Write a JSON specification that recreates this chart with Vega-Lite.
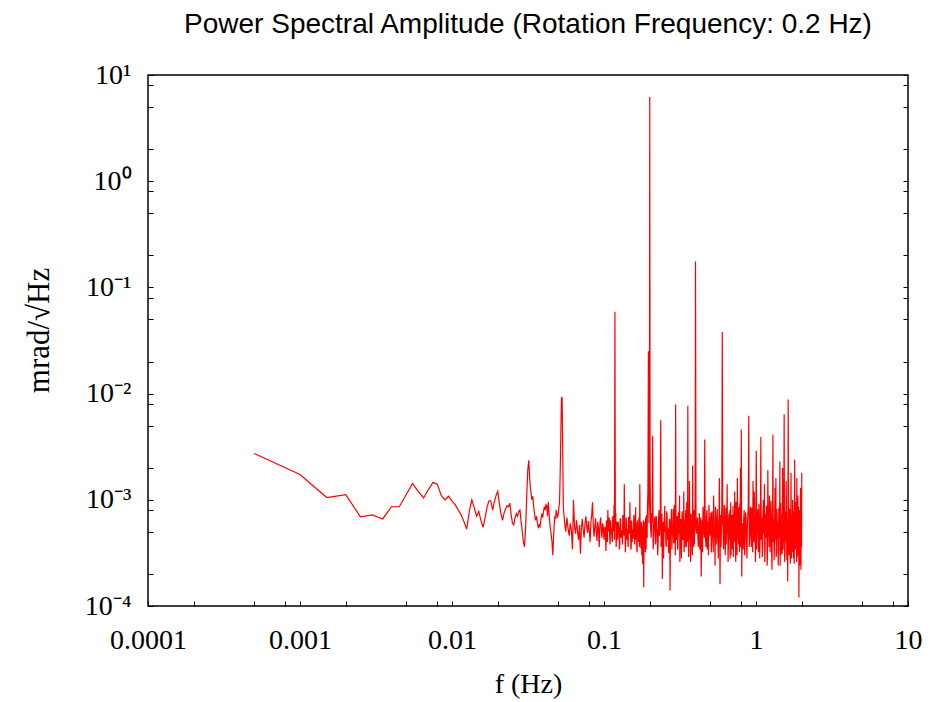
{
"$schema":"https://vega.github.io/schema/vega-lite/v6.json",
"width":760,"height":531,
"autosize":{"type":"none"},
"padding":{"left":148,"top":75,"right":25,"bottom":96},
"background":"white",
"title":{"text":"Power Spectral Amplitude (Rotation Frequency: 0.2 Hz)","font":"Liberation Sans","fontSize":28,"fontWeight":"normal","color":"#000","anchor":"middle","offset":22},
"config":{"view":{"stroke":"#000","strokeWidth":1.5}},
"data":{"values":[
{"f":0.0005,"a":0.00273},{"f":0.001,"a":0.00173},{"f":0.0015,"a":0.00105},{"f":0.002,"a":0.00112},{"f":0.0025,"a":0.00069},{"f":0.003,"a":0.00072},{"f":0.0035,"a":0.00066},{"f":0.004,"a":0.00086},{"f":0.0045,"a":0.00086},{"f":0.005,"a":0.00112},{"f":0.0055,"a":0.00142},{"f":0.006,"a":0.0012},{"f":0.0065,"a":0.00104},{"f":0.007,"a":0.00125},{"f":0.0075,"a":0.00146},{"f":0.008,"a":0.0014},{"f":0.0085,"a":0.0011},{"f":0.009,"a":0.001},{"f":0.0095,"a":0.00108},{"f":0.01,"a":0.00097},
{"f":0.0105,"a":0.0009},{"f":0.011,"a":0.0008},{"f":0.0115,"a":0.00072},{"f":0.012,"a":0.00062},{"f":0.0125,"a":0.00053},{"f":0.013,"a":0.00078},{"f":0.0135,"a":0.001},{"f":0.014,"a":0.00085},{"f":0.0145,"a":0.0007},{"f":0.015,"a":0.00078},{"f":0.0155,"a":0.00064},{"f":0.016,"a":0.00055},{"f":0.0165,"a":0.00068},{"f":0.017,"a":0.00085},{"f":0.0175,"a":0.00098},{"f":0.018,"a":0.00098},{"f":0.0185,"a":0.0008},{"f":0.019,"a":0.00096},{"f":0.0195,"a":0.0011},{"f":0.02,"a":0.0012},
{"f":0.0205,"a":0.00092},{"f":0.021,"a":0.00074},{"f":0.0215,"a":0.00064},{"f":0.022,"a":0.00075},{"f":0.0225,"a":0.00082},{"f":0.023,"a":0.00088},{"f":0.0235,"a":0.00086},{"f":0.024,"a":0.00093},{"f":0.0245,"a":0.00072},{"f":0.025,"a":0.0006},{"f":0.0255,"a":0.00058},{"f":0.026,"a":0.00068},{"f":0.0265,"a":0.00074},{"f":0.027,"a":0.0007},{"f":0.0275,"a":0.00078},{"f":0.028,"a":0.0008},{"f":0.0285,"a":0.00062},{"f":0.029,"a":0.0005},{"f":0.0295,"a":0.0004},{"f":0.03,"a":0.00036},
{"f":0.0305,"a":0.00055},{"f":0.031,"a":0.00105},{"f":0.0315,"a":0.0019},{"f":0.032,"a":0.00235},{"f":0.0325,"a":0.0015},{"f":0.033,"a":0.0012},{"f":0.0335,"a":0.001},{"f":0.034,"a":0.00108},{"f":0.0345,"a":0.00085},{"f":0.035,"a":0.00072},{"f":0.0355,"a":0.00064},{"f":0.036,"a":0.0007},{"f":0.0365,"a":0.0006},{"f":0.037,"a":0.00054},{"f":0.0375,"a":0.00058},{"f":0.038,"a":0.00056},{"f":0.0385,"a":0.00066},{"f":0.039,"a":0.00074},{"f":0.0395,"a":0.00068},{"f":0.04,"a":0.00078},
{"f":0.0405,"a":0.00086},{"f":0.041,"a":0.0008},{"f":0.0415,"a":0.0009},{"f":0.042,"a":0.00088},{"f":0.0425,"a":0.0007},{"f":0.043,"a":0.00095},{"f":0.0435,"a":0.00075},{"f":0.044,"a":0.0006},{"f":0.0445,"a":0.00052},{"f":0.045,"a":0.00046},{"f":0.0455,"a":0.0004},{"f":0.046,"a":0.0003},{"f":0.0465,"a":0.00042},{"f":0.047,"a":0.00058},{"f":0.0475,"a":0.0007},{"f":0.048,"a":0.00066},{"f":0.0485,"a":0.0008},{"f":0.049,"a":0.00072},{"f":0.0495,"a":0.00068},{"f":0.05,"a":0.00074},
{"f":0.0505,"a":0.00085},{"f":0.051,"a":0.00095},{"f":0.0515,"a":0.0018},{"f":0.052,"a":0.0042},{"f":0.0525,"a":0.009},{"f":0.053,"a":0.0093},{"f":0.0535,"a":0.003},{"f":0.054,"a":0.00085},
{"f":0.055,"a":0.00062},{"f":0.056,"a":0.0005},{"f":0.057,"a":0.00068},{"f":0.058,"a":0.00054},{"f":0.059,"a":0.00046},{"f":0.06,"a":0.0006},{"f":0.061,"a":0.00052},{"f":0.062,"a":0.00034},{"f":0.063,"a":0.001},{"f":0.064,"a":0.00056},{"f":0.065,"a":0.00048},{"f":0.066,"a":0.00064},{"f":0.067,"a":0.0005},{"f":0.068,"a":0.00042},{"f":0.069,"a":0.00058},{"f":0.07,"a":0.00031},{"f":0.071,"a":0.00054},{"f":0.072,"a":0.00066},{"f":0.073,"a":0.00052},{"f":0.074,"a":0.00044},{"f":0.075,"a":0.0006},{"f":0.076,"a":0.0007},{"f":0.077,"a":0.00056},{"f":0.078,"a":0.00049},{"f":0.079,"a":0.00063},{"f":0.08,"a":0.00051},{"f":0.081,"a":0.0004},{"f":0.082,"a":0.00061},{"f":0.083,"a":0.00072},{"f":0.084,"a":0.00095},{"f":0.085,"a":0.00058},{"f":0.086,"a":0.00045},{"f":0.087,"a":0.00055},{"f":0.088,"a":0.00067},{"f":0.089,"a":0.0005},{"f":0.09,"a":0.00041},{"f":0.091,"a":0.00062},{"f":0.092,"a":0.00053},{"f":0.093,"a":0.00036},{"f":0.094,"a":0.00059},{"f":0.095,"a":0.00068},{"f":0.096,"a":0.00052},{"f":0.097,"a":0.00044},{"f":0.098,"a":0.0006},{"f":0.099,"a":0.00055},{"f":0.1,"a":0.00042},
{"f":0.1015,"a":0.00056},{"f":0.103,"a":0.00033},{"f":0.1045,"a":0.0006},{"f":0.106,"a":0.0008},{"f":0.1075,"a":0.0005},{"f":0.109,"a":0.00044},{"f":0.1105,"a":0.00064},{"f":0.112,"a":0.00052},{"f":0.1135,"a":0.0004},{"f":0.115,"a":0.00068},{"f":0.1165,"a":0.0009},{"f":0.118,"a":0.059},{"f":0.1195,"a":0.00075},{"f":0.121,"a":0.0005},{"f":0.1225,"a":0.00042},{"f":0.124,"a":0.00062},{"f":0.1255,"a":0.00054},{"f":0.127,"a":0.00038},{"f":0.1285,"a":0.00066},{"f":0.13,"a":0.00051},{"f":0.1315,"a":0.00045},{"f":0.133,"a":0.00072},{"f":0.1345,"a":0.00056},{"f":0.136,"a":0.0014},{"f":0.1375,"a":0.0005},{"f":0.139,"a":0.00039},{"f":0.1405,"a":0.00063},{"f":0.142,"a":0.00053},{"f":0.1435,"a":0.00041},{"f":0.145,"a":0.00069},{"f":0.1465,"a":0.00055},{"f":0.148,"a":0.00095},{"f":0.1495,"a":0.00048},{"f":0.151,"a":0.00036},{"f":0.1525,"a":0.00061},{"f":0.154,"a":0.00052},{"f":0.1555,"a":0.00043},{"f":0.157,"a":0.0007},{"f":0.1585,"a":0.00056},{"f":0.16,"a":0.00046},{"f":0.1615,"a":0.00085},{"f":0.163,"a":0.00054},{"f":0.1645,"a":0.00034},{"f":0.166,"a":0.00064},{"f":0.1675,"a":0.0005},{"f":0.169,"a":0.0004},{"f":0.1705,"a":0.00068},{"f":0.172,"a":0.0014},{"f":0.1735,"a":0.00056},{"f":0.175,"a":0.00035},{"f":0.1765,"a":0.0006},{"f":0.178,"a":0.0005},{"f":0.1795,"a":0.00025},{"f":0.181,"a":0.00054},{"f":0.1825,"a":0.00015},{"f":0.184,"a":0.00046},{"f":0.1855,"a":0.00062},{"f":0.187,"a":0.00032},{"f":0.1885,"a":0.00058},{"f":0.19,"a":0.00072},{"f":0.1915,"a":0.00044},{"f":0.193,"a":0.0008},{"f":0.1945,"a":0.0012},{"f":0.196,"a":0.025},{"f":0.1975,"a":0.0006},{"f":0.199,"a":0.0015},{"f":0.2,"a":6.2},{"f":0.201,"a":0.002},{"f":0.2025,"a":0.00055},
{"f":0.206,"a":0.00075},{"f":0.209,"a":0.004},{"f":0.212,"a":0.00042},{"f":0.215,"a":0.00066},{"f":0.218,"a":0.00038},{"f":0.221,"a":0.0007},{"f":0.224,"a":0.00052},{"f":0.227,"a":0.0004},{"f":0.23,"a":0.0008},{"f":0.233,"a":0.00055},{"f":0.236,"a":0.0056},{"f":0.239,"a":0.00044},{"f":0.242,"a":0.00018},{"f":0.245,"a":0.00062},{"f":0.248,"a":0.00048},{"f":0.251,"a":0.00088},{"f":0.254,"a":0.00056},{"f":0.257,"a":0.00036},{"f":0.26,"a":0.00072},{"f":0.263,"a":0.0005},{"f":0.266,"a":0.00032},{"f":0.269,"a":0.00066},{"f":0.272,"a":0.00014},{"f":0.275,"a":0.00058},{"f":0.278,"a":0.00082},{"f":0.281,"a":0.00046},{"f":0.284,"a":0.0006},{"f":0.287,"a":0.00039},{"f":0.29,"a":0.0009},{"f":0.293,"a":0.00054},{"f":0.296,"a":0.0079},{"f":0.299,"a":0.00042},{"f":0.302,"a":0.00068},{"f":0.305,"a":0.00034},{"f":0.308,"a":0.00076},{"f":0.311,"a":0.00052},{"f":0.314,"a":0.0011},{"f":0.317,"a":0.0004},{"f":0.32,"a":0.00064},{"f":0.323,"a":0.00028},{"f":0.326,"a":0.00078},{"f":0.329,"a":0.00055},{"f":0.332,"a":0.00044},{"f":0.335,"a":0.0012},{"f":0.338,"a":0.0006},{"f":0.341,"a":0.00036},{"f":0.344,"a":0.0007},{"f":0.347,"a":0.0005},{"f":0.35,"a":0.00095},{"f":0.353,"a":0.00045},{"f":0.356,"a":0.0077},{"f":0.359,"a":0.00062},{"f":0.362,"a":0.00038},{"f":0.365,"a":0.0015},{"f":0.368,"a":0.00054},{"f":0.371,"a":0.00026},{"f":0.374,"a":0.00074},{"f":0.377,"a":0.00058},{"f":0.38,"a":0.0004},{"f":0.383,"a":0.0021},{"f":0.386,"a":0.00066},{"f":0.389,"a":0.00036},{"f":0.392,"a":0.0008},{"f":0.395,"a":0.0005},{"f":0.398,"a":0.0014},{"f":0.4,"a":0.175},{"f":0.403,"a":0.0006},
{"f":0.406,"a":0.00048},{"f":0.412,"a":0.00068},{"f":0.418,"a":0.00036},{"f":0.424,"a":0.00075},{"f":0.43,"a":0.00052},{"f":0.436,"a":0.00019},{"f":0.442,"a":0.00064},{"f":0.448,"a":0.00086},{"f":0.454,"a":0.0005},{"f":0.46,"a":0.0037},{"f":0.466,"a":0.00042},{"f":0.472,"a":0.0007},{"f":0.478,"a":0.00034},{"f":0.484,"a":0.00062},{"f":0.49,"a":0.0009},{"f":0.496,"a":0.00046},{"f":0.502,"a":0.00066},{"f":0.508,"a":0.00032},{"f":0.514,"a":0.00078},{"f":0.52,"a":0.00054},{"f":0.526,"a":0.0011},{"f":0.532,"a":0.00044},{"f":0.538,"a":0.00024},{"f":0.544,"a":0.00068},{"f":0.55,"a":0.0005},{"f":0.556,"a":0.00082},{"f":0.562,"a":0.00038},{"f":0.568,"a":0.0006},{"f":0.574,"a":0.0016},{"f":0.58,"a":0.00016},{"f":0.586,"a":0.00072},{"f":0.592,"a":0.00052},{"f":0.596,"a":0.0009},{"f":0.6,"a":0.038},{"f":0.604,"a":0.0006},{"f":0.61,"a":0.0004},{"f":0.616,"a":0.00076},{"f":0.622,"a":0.00056},{"f":0.628,"a":0.0003},{"f":0.634,"a":0.00084},{"f":0.64,"a":0.0005},{"f":0.646,"a":0.0014},{"f":0.652,"a":0.00062},{"f":0.658,"a":0.00036},{"f":0.664,"a":0.00074},{"f":0.67,"a":0.00058},{"f":0.676,"a":0.00028},{"f":0.682,"a":0.00095},{"f":0.688,"a":0.0005},{"f":0.694,"a":0.00072},{"f":0.7,"a":0.00034},{"f":0.706,"a":0.00088},{"f":0.712,"a":0.00056},{"f":0.718,"a":0.0004},{"f":0.724,"a":0.0012},{"f":0.73,"a":0.0006},{"f":0.736,"a":0.00026},{"f":0.742,"a":0.00078},{"f":0.748,"a":0.00052},{"f":0.754,"a":0.0016},{"f":0.76,"a":0.00084},{"f":0.766,"a":0.00044},{"f":0.772,"a":0.00066},{"f":0.778,"a":0.00032},{"f":0.784,"a":0.00092},{"f":0.79,"a":0.002},{"f":0.796,"a":0.00054},{"f":0.8,"a":0.0046},{"f":0.806,"a":0.00019},
{"f":0.812,"a":0.0006},{"f":0.824,"a":0.00034},{"f":0.836,"a":0.0008},{"f":0.848,"a":0.00046},{"f":0.86,"a":0.00068},{"f":0.872,"a":0.00028},{"f":0.884,"a":0.00074},{"f":0.896,"a":0.0062},{"f":0.908,"a":0.00042},{"f":0.92,"a":0.00086},{"f":0.932,"a":0.00036},{"f":0.944,"a":0.00064},{"f":0.956,"a":0.0015},{"f":0.968,"a":0.0004},{"f":0.98,"a":0.0007},{"f":0.992,"a":0.00026},{"f":1.004,"a":0.0029},{"f":1.016,"a":0.0005},{"f":1.028,"a":0.00082},{"f":1.04,"a":0.00032},{"f":1.052,"a":0.00066},{"f":1.064,"a":0.00044},{"f":1.076,"a":0.0039},{"f":1.088,"a":0.00056},{"f":1.1,"a":0.00029},{"f":1.112,"a":0.00078},{"f":1.124,"a":0.00048},{"f":1.136,"a":0.0014},{"f":1.148,"a":0.00034},{"f":1.16,"a":0.00062},{"f":1.172,"a":0.00088},{"f":1.184,"a":0.00024},{"f":1.196,"a":0.0019},{"f":1.208,"a":0.00052},{"f":1.22,"a":0.00036},{"f":1.232,"a":0.00076},{"f":1.244,"a":0.00046},{"f":1.256,"a":0.00098},{"f":1.268,"a":0.0003},{"f":1.28,"a":0.00068},{"f":1.292,"a":0.0041},{"f":1.304,"a":0.00054},{"f":1.316,"a":0.00027},{"f":1.328,"a":0.0008},{"f":1.34,"a":0.00042},{"f":1.352,"a":0.0016},{"f":1.364,"a":0.00032},{"f":1.376,"a":0.0007},{"f":1.388,"a":0.0005},{"f":1.4,"a":0.00024},{"f":1.412,"a":0.00084},{"f":1.424,"a":0.00044},{"f":1.436,"a":0.0023},{"f":1.448,"a":0.0006},{"f":1.46,"a":0.0003},{"f":1.472,"a":0.00074},{"f":1.484,"a":0.00048},{"f":1.496,"a":0.002},{"f":1.508,"a":0.00034},{"f":1.52,"a":0.00064},{"f":1.532,"a":0.0064},{"f":1.544,"a":0.00026},{"f":1.556,"a":0.00078},{"f":1.568,"a":0.00046},{"f":1.58,"a":0.0015},{"f":1.592,"a":0.00032},{"f":1.604,"a":0.00068},{"f":1.616,"a":0.00017},{"f":1.628,"a":0.0088},{"f":1.64,"a":0.00052},{"f":1.652,"a":0.0003},{"f":1.664,"a":0.00082},{"f":1.676,"a":0.00044},{"f":1.688,"a":0.0006},{"f":1.7,"a":0.0018},{"f":1.712,"a":0.00028},{"f":1.724,"a":0.00072},{"f":1.736,"a":0.00048},{"f":1.748,"a":0.0009},{"f":1.76,"a":0.00034},{"f":1.772,"a":0.00066},{"f":1.784,"a":0.00025},{"f":1.796,"a":0.0024},{"f":1.808,"a":0.00056},{"f":1.82,"a":0.00038},{"f":1.832,"a":0.00078},{"f":1.844,"a":0.00042},{"f":1.856,"a":0.0016},{"f":1.868,"a":0.00029},{"f":1.88,"a":0.00064},{"f":1.892,"a":0.00046},{"f":1.904,"a":0.00086},{"f":1.916,"a":0.00012},{"f":1.928,"a":0.00054},{"f":1.94,"a":0.00036},{"f":1.952,"a":0.0007},{"f":1.964,"a":0.0013},{"f":1.976,"a":0.00022},{"f":1.988,"a":0.0006},{"f":2.0,"a":0.0018},
{"f":0.409,"a":0.0006},{"f":0.415,"a":0.00042},{"f":0.421,"a":0.00056},{"f":0.427,"a":0.00034},{"f":0.433,"a":0.00068},{"f":0.439,"a":0.00046},{"f":0.445,"a":0.00032},{"f":0.451,"a":0.0007},{"f":0.457,"a":0.00044},{"f":0.463,"a":0.00058},{"f":0.469,"a":0.00036},{"f":0.475,"a":0.0008},{"f":0.481,"a":0.00048},{"f":0.487,"a":0.0003},{"f":0.493,"a":0.00064},{"f":0.499,"a":0.0005},{"f":0.505,"a":0.00076},{"f":0.511,"a":0.0004},{"f":0.517,"a":0.00054},{"f":0.523,"a":0.00032},{"f":0.529,"a":0.00066},{"f":0.535,"a":0.00046},{"f":0.541,"a":0.00086},{"f":0.547,"a":0.00038},{"f":0.553,"a":0.0006},{"f":0.559,"a":0.00044},{"f":0.565,"a":0.00028},{"f":0.571,"a":0.00072},{"f":0.577,"a":0.0005},{"f":0.583,"a":0.00064},{"f":0.589,"a":0.00036},{"f":0.607,"a":0.00056},{"f":0.613,"a":0.00034},{"f":0.619,"a":0.0009},{"f":0.625,"a":0.00042},{"f":0.631,"a":0.00062},{"f":0.637,"a":0.00038},{"f":0.643,"a":0.0007},{"f":0.649,"a":0.00048},{"f":0.655,"a":0.00026},{"f":0.661,"a":0.00066},{"f":0.667,"a":0.00042},{"f":0.673,"a":0.0008},{"f":0.679,"a":0.00052},{"f":0.685,"a":0.0003},{"f":0.691,"a":0.00064},{"f":0.697,"a":0.00046},{"f":0.703,"a":0.00058},{"f":0.709,"a":0.00029},{"f":0.715,"a":0.00074},{"f":0.721,"a":0.00044},{"f":0.727,"a":0.0006},{"f":0.733,"a":0.00034},{"f":0.739,"a":0.00096},{"f":0.745,"a":0.00048},{"f":0.751,"a":0.0003},{"f":0.757,"a":0.00068},{"f":0.763,"a":0.00054},{"f":0.769,"a":0.00038},{"f":0.775,"a":0.00086},{"f":0.781,"a":0.00042},{"f":0.787,"a":0.00062},{"f":0.793,"a":0.00036},
{"f":0.818,"a":0.00044},{"f":0.83,"a":0.00066},{"f":0.842,"a":0.0003},{"f":0.854,"a":0.00076},{"f":0.866,"a":0.0004},{"f":0.878,"a":0.00058},{"f":0.89,"a":0.0009},{"f":0.902,"a":0.00036},{"f":0.914,"a":0.0006},{"f":0.926,"a":0.00048},{"f":0.938,"a":0.00084},{"f":0.95,"a":0.00032},{"f":0.962,"a":0.00056},{"f":0.974,"a":0.0012},{"f":0.986,"a":0.00046},{"f":0.998,"a":0.00072},{"f":1.01,"a":0.00034},{"f":1.022,"a":0.00062},{"f":1.034,"a":0.0005},{"f":1.046,"a":0.00092},{"f":1.058,"a":0.00028},{"f":1.07,"a":0.0007},{"f":1.082,"a":0.00042},{"f":1.094,"a":0.00068},{"f":1.106,"a":0.00036},{"f":1.118,"a":0.001},{"f":1.13,"a":0.00052},{"f":1.142,"a":0.00026},{"f":1.154,"a":0.00074},{"f":1.166,"a":0.00044},{"f":1.178,"a":0.0006},{"f":1.19,"a":0.0003},{"f":1.202,"a":0.0008},{"f":1.214,"a":0.00048},{"f":1.226,"a":0.0011},{"f":1.238,"a":0.00032},{"f":1.25,"a":0.00064},{"f":1.262,"a":0.0005},{"f":1.274,"a":0.00022},{"f":1.286,"a":0.00078},{"f":1.298,"a":0.0004},{"f":1.31,"a":0.00066},{"f":1.322,"a":0.00038},{"f":1.334,"a":0.0013},{"f":1.346,"a":0.00054},{"f":1.358,"a":0.00029},{"f":1.37,"a":0.00082},{"f":1.382,"a":0.00042},{"f":1.394,"a":0.00062},{"f":1.406,"a":0.00034},{"f":1.418,"a":0.0007},{"f":1.43,"a":0.0005},{"f":1.442,"a":0.00024},{"f":1.454,"a":0.00094},{"f":1.466,"a":0.00046},{"f":1.478,"a":0.0006},{"f":1.49,"a":0.00031},{"f":1.502,"a":0.00076},{"f":1.514,"a":0.00044},{"f":1.526,"a":0.0012},{"f":1.538,"a":0.00058},{"f":1.55,"a":0.0003},{"f":1.562,"a":0.00068},{"f":1.574,"a":0.0004},{"f":1.586,"a":0.00088},{"f":1.598,"a":0.00027},{"f":1.61,"a":0.00062},{"f":1.622,"a":0.00046},{"f":1.634,"a":0.0014},{"f":1.646,"a":0.00036},{"f":1.658,"a":0.00072},{"f":1.67,"a":0.0005},{"f":1.682,"a":0.00025},{"f":1.694,"a":0.00086},{"f":1.706,"a":0.00042},{"f":1.718,"a":0.00064},{"f":1.73,"a":0.00032},{"f":1.742,"a":0.001},{"f":1.754,"a":0.00052},{"f":1.766,"a":0.00028},{"f":1.778,"a":0.00078},{"f":1.79,"a":0.00044},{"f":1.802,"a":0.0006},{"f":1.814,"a":0.00034},{"f":1.826,"a":0.00096},{"f":1.838,"a":0.0005},{"f":1.85,"a":0.00026},{"f":1.862,"a":0.00072},{"f":1.874,"a":0.0004},{"f":1.886,"a":0.0011},{"f":1.898,"a":0.0003},{"f":1.91,"a":0.00066},{"f":1.922,"a":0.00048},{"f":1.934,"a":0.0008},{"f":1.946,"a":0.00024},{"f":1.958,"a":0.00062},{"f":1.97,"a":0.00044},{"f":1.982,"a":0.0009},{"f":1.994,"a":0.00036},
{"f":0.2045,"a":0.00044},{"f":0.2075,"a":0.00062},{"f":0.2105,"a":0.00034},{"f":0.2135,"a":0.00056},{"f":0.2165,"a":0.0007},{"f":0.2195,"a":0.0004},{"f":0.2225,"a":0.00052},{"f":0.2255,"a":0.0003},{"f":0.2285,"a":0.00066},{"f":0.2315,"a":0.00046},{"f":0.2345,"a":0.00058},{"f":0.2375,"a":0.00036},{"f":0.2405,"a":0.00074},{"f":0.2435,"a":0.00048},{"f":0.2465,"a":0.00028},{"f":0.2495,"a":0.0006},{"f":0.2525,"a":0.0005},{"f":0.2555,"a":0.00038},{"f":0.2585,"a":0.00078},{"f":0.2615,"a":0.00042},{"f":0.2645,"a":0.00054},{"f":0.2675,"a":0.00032},{"f":0.2705,"a":0.00064},{"f":0.2735,"a":0.00046},{"f":0.2765,"a":0.00068},{"f":0.2795,"a":0.00034},{"f":0.2825,"a":0.0005},{"f":0.2855,"a":0.00082},{"f":0.2885,"a":0.0004},{"f":0.2915,"a":0.00058},{"f":0.2945,"a":0.0003},{"f":0.2975,"a":0.00062},{"f":0.3005,"a":0.00044},{"f":0.3035,"a":0.0007},{"f":0.3065,"a":0.00036},{"f":0.3095,"a":0.00056},{"f":0.3125,"a":0.00048},{"f":0.3155,"a":0.00026},{"f":0.3185,"a":0.00066},{"f":0.3215,"a":0.00052},{"f":0.3245,"a":0.00038},{"f":0.3275,"a":0.00072},{"f":0.3305,"a":0.00042},{"f":0.3335,"a":0.00058},{"f":0.3365,"a":0.00032},{"f":0.3395,"a":0.00064},{"f":0.3425,"a":0.00046},{"f":0.3455,"a":0.0008},{"f":0.3485,"a":0.00036},{"f":0.3515,"a":0.00054},{"f":0.3545,"a":0.0004},{"f":0.3575,"a":0.00068},{"f":0.3605,"a":0.00029},{"f":0.3635,"a":0.00056},{"f":0.3665,"a":0.00044},{"f":0.3695,"a":0.00074},{"f":0.3725,"a":0.00034},{"f":0.3755,"a":0.0006},{"f":0.3785,"a":0.0005},{"f":0.3815,"a":0.0003},{"f":0.3845,"a":0.00066},{"f":0.3875,"a":0.00042},{"f":0.3905,"a":0.00076},{"f":0.3935,"a":0.00038},{"f":0.3965,"a":0.00054},
{"f":0.10225,"a":0.00046},{"f":0.10375,"a":0.00064},{"f":0.10525,"a":0.0004},{"f":0.10675,"a":0.00054},{"f":0.10825,"a":0.00068},{"f":0.10975,"a":0.00038},{"f":0.11125,"a":0.00056},{"f":0.11275,"a":0.00044},{"f":0.11425,"a":0.0007},{"f":0.11575,"a":0.0005},{"f":0.11725,"a":0.00042},{"f":0.11875,"a":0.00058},{"f":0.12025,"a":0.00036},{"f":0.12175,"a":0.00062},{"f":0.12325,"a":0.00048},{"f":0.12475,"a":0.00056},{"f":0.12625,"a":0.00034},{"f":0.12775,"a":0.00066},{"f":0.12925,"a":0.00044},{"f":0.13075,"a":0.00052},{"f":0.13225,"a":0.00038},{"f":0.13375,"a":0.0006},{"f":0.13525,"a":0.00046},{"f":0.13675,"a":0.00054},{"f":0.13825,"a":0.00032},{"f":0.13975,"a":0.00068},{"f":0.14125,"a":0.00042},{"f":0.14275,"a":0.0005},{"f":0.14425,"a":0.00036},{"f":0.14575,"a":0.00062},{"f":0.14725,"a":0.00048},{"f":0.14875,"a":0.00058},{"f":0.15025,"a":0.00034},{"f":0.15175,"a":0.00064},{"f":0.15325,"a":0.0004},{"f":0.15475,"a":0.00052},{"f":0.15625,"a":0.00046},{"f":0.15775,"a":0.00072},{"f":0.15925,"a":0.00038},{"f":0.16075,"a":0.00056},{"f":0.16225,"a":0.00042},{"f":0.16375,"a":0.0006},{"f":0.16525,"a":0.00032},{"f":0.16675,"a":0.00054},{"f":0.16825,"a":0.00048},{"f":0.16975,"a":0.00066},{"f":0.17125,"a":0.00036},{"f":0.17275,"a":0.0005},{"f":0.17425,"a":0.00044},{"f":0.17575,"a":0.00062},{"f":0.17725,"a":0.0003},{"f":0.17875,"a":0.00056},{"f":0.18025,"a":0.00042},{"f":0.18175,"a":0.00064},{"f":0.18325,"a":0.00038},{"f":0.18475,"a":0.00052},{"f":0.18625,"a":0.00046},{"f":0.18775,"a":0.00068},{"f":0.18925,"a":0.00034},{"f":0.19075,"a":0.00058},{"f":0.19225,"a":0.00044}
]},
"layer":[
{"mark":{"type":"line","color":"#ff0000","strokeWidth":1.2,"clip":true},
 "encoding":{
  "x":{"field":"f","type":"quantitative","scale":{"type":"log","domain":[0.0001,10],"nice":false},
   "axis":{"values":[0.0001,0.0002,0.0005,0.0008,0.001,0.002,0.005,0.008,0.01,0.02,0.05,0.08,0.1,0.2,0.5,0.8,1,2,5,8,10],
    "labelExpr":"abs(log(datum.value)/LN10 - round(log(datum.value)/LN10)) < 0.01 ? format(datum.value, '.4~f') : ''",
    "tickSize":-5,"tickColor":"#000","tickWidth":1,"domain":false,"grid":false,
    "labelFont":"Liberation Serif","labelFontSize":28,"labelColor":"#000","labelPadding":25,"labelFlush":false,"labelOverlap":false,"labelDx":4,
    "title":"f (Hz)","titleFont":"Liberation Serif","titleFontSize":28,"titleFontWeight":"normal","titleColor":"#000","titleX":380,"titleY":86,"titleBaseline":"alphabetic","titleAlign":"center"}},
  "y":{"field":"a","type":"quantitative","scale":{"type":"log","domain":[0.0001,10],"nice":false},
   "axis":{"values":[0.0001,0.0002,0.0005,0.0008,0.001,0.002,0.005,0.008,0.01,0.02,0.05,0.08,0.1,0.2,0.5,0.8,1,2,5,8,10],
    "labelExpr":"datum.value == 10 ? '10¹' : datum.value == 1 ? '10⁰' : datum.value == 0.1 ? '10⁻¹' : datum.value == 0.01 ? '10⁻²' : datum.value == 0.001 ? '10⁻³' : datum.value == 0.0001 ? '10⁻⁴' : ''",
    "tickSize":-5,"tickColor":"#000","tickWidth":1,"domain":false,"grid":false,
    "labelFont":"Liberation Serif","labelFontSize":28,"labelColor":"#000","labelPadding":22,"labelFlush":false,"labelOverlap":false,
    "title":"mrad/√Hz","titleFont":"Liberation Serif","titleFontSize":31,"titleFontWeight":"normal","titleColor":"#000","titleX":-100,"titleY":255,"titleBaseline":"alphabetic","titleAlign":"center","titleAngle":-90}}
 }},
{"mark":{"type":"point","opacity":0},
 "encoding":{
  "x":{"field":"f","type":"quantitative","scale":{"type":"log","domain":[0.0001,10],"nice":false},"axis":null},
  "y":{"field":"a","type":"quantitative","scale":{"type":"log","domain":[0.0001,10],"nice":false},
   "axis":{"orient":"right","values":[0.0001,0.0002,0.0005,0.0008,0.001,0.002,0.005,0.008,0.01,0.02,0.05,0.08,0.1,0.2,0.5,0.8,1,2,5,8,10],
    "labels":false,"tickSize":-5,"tickColor":"#000","tickWidth":1,"domain":false,"grid":false,"title":null}}
 }}
],
"resolve":{"scale":{"x":"independent","y":"independent"},"axis":{"x":"independent","y":"independent"}}
}
